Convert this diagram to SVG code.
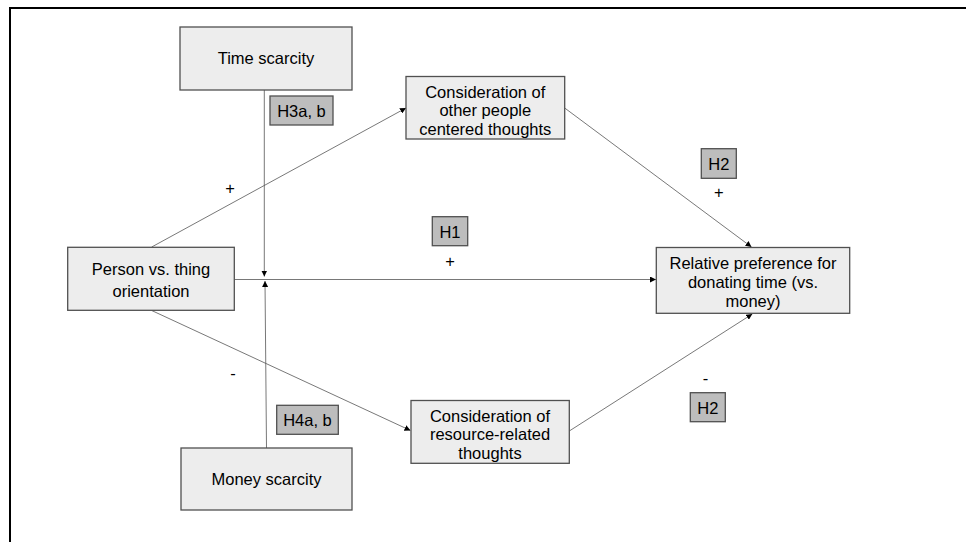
<svg xmlns="http://www.w3.org/2000/svg" width="966" height="542" viewBox="0 0 966 542">
<style>
.box{fill:#ededed;stroke:#505050;stroke-width:1.3}
.hbox{fill:#bdbdbd;stroke:#505050;stroke-width:1.3}
.t{font-family:"Liberation Sans",Arial,sans-serif;font-size:16.5px;fill:#000;text-anchor:middle}
.c{stroke:#555;stroke-width:0.8;fill:none}
</style>
<defs>
<marker id="ah" viewBox="0 0 10 10" refX="10" refY="5" markerWidth="6" markerHeight="6" markerUnits="userSpaceOnUse" orient="auto">
<path d="M0,0 L10,5 L0,10 z" fill="#000"/>
</marker>
</defs>
<rect x="0" y="0" width="966" height="542" fill="#fff"/>
<path d="M10,543 L10,8 L967,8" fill="none" stroke="#000" stroke-width="2"/>
<g id="connectors">
<line class="c" x1="264.3" y1="90" x2="264.3" y2="276.5" marker-end="url(#ah)"/>
<line class="c" x1="266.5" y1="448" x2="265" y2="281" marker-end="url(#ah)"/>
<line class="c" x1="234.3" y1="279.5" x2="656" y2="279.5" marker-end="url(#ah)"/>
<line class="c" x1="151.7" y1="247" x2="406" y2="108" marker-end="url(#ah)"/>
<line class="c" x1="564.7" y1="108" x2="751.5" y2="247" marker-end="url(#ah)"/>
<line class="c" x1="151.7" y1="310.5" x2="410.5" y2="430.5" marker-end="url(#ah)"/>
<line class="c" x1="569.3" y1="431" x2="752.3" y2="314" marker-end="url(#ah)"/>
</g>
<g id="time-scarcity">
<rect class="box" x="180" y="27" width="172" height="63"/>
<text class="t" x="266" y="64">Time scarcity</text>
</g>
<g id="money-scarcity">
<rect class="box" x="181" y="448" width="171" height="62"/>
<text class="t" x="266.5" y="485">Money scarcity</text>
</g>
<g id="person">
<rect class="box" x="67.7" y="247.3" width="166.6" height="63"/>
<text class="t" x="151" y="275">Person vs. thing</text>
<text class="t" x="151" y="297">orientation</text>
</g>
<g id="other-people">
<rect class="box" x="406" y="76.5" width="158.7" height="62.5"/>
<text class="t" x="485.3" y="97.5">Consideration of</text>
<text class="t" x="485.3" y="116">other people</text>
<text class="t" x="485.3" y="134.5">centered thoughts</text>
</g>
<g id="resource">
<rect class="box" x="411" y="400.5" width="158.3" height="62.8"/>
<text class="t" x="490" y="421.5">Consideration of</text>
<text class="t" x="490" y="440">resource-related</text>
<text class="t" x="490" y="458.5">thoughts</text>
</g>
<g id="relative-preference">
<rect class="box" x="656.3" y="247.5" width="193.4" height="65.8"/>
<text class="t" x="753" y="268.5">Relative preference for</text>
<text class="t" x="753" y="287.5">donating time (vs.</text>
<text class="t" x="753" y="306.5">money)</text>
</g>
<g id="h3">
<rect class="hbox" x="270" y="96" width="63" height="29"/>
<text class="t" x="301.5" y="116.5">H3a, b</text>
</g>
<g id="h4">
<rect class="hbox" x="276.7" y="405.3" width="61.6" height="29"/>
<text class="t" x="307.5" y="426">H4a, b</text>
</g>
<g id="h1">
<rect class="hbox" x="432.3" y="216.7" width="35.4" height="29"/>
<text class="t" x="450" y="237.5">H1</text>
</g>
<g id="h2-top">
<rect class="hbox" x="701.3" y="148.7" width="35" height="29.6"/>
<text class="t" x="718.8" y="169.5">H2</text>
</g>
<g id="h2-bottom">
<rect class="hbox" x="690.3" y="392.7" width="35" height="29"/>
<text class="t" x="707.8" y="413.5">H2</text>
</g>
<g id="signs">
<text class="t" x="230" y="194">+</text>
<text class="t" x="450" y="267">+</text>
<text class="t" x="718.7" y="198">+</text>
<text class="t" x="233" y="379">-</text>
<text class="t" x="705.5" y="384">-</text>
</g>
</svg>
